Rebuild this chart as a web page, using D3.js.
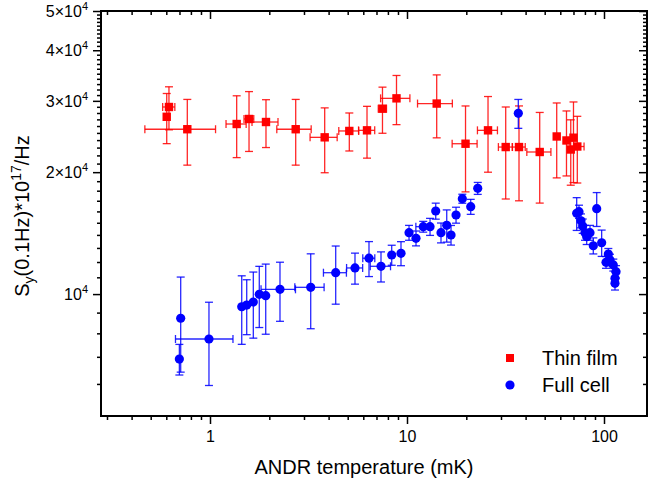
<!DOCTYPE html>
<html>
<head>
<meta charset="utf-8">
<script src="https://cdn.jsdelivr.net/npm/d3@7"></script>
<style>
  body { margin: 0; background: #fff; }
  svg { display: block; font-family: Arial, "Liberation Sans", sans-serif; }
</style>
</head>
<body>
<svg id="chart" width="649" height="484"></svg>
<script>
// Thin film: ANDR temperature (mK), Sy, errors
var filmT    = [0.603, 0.619, 0.767, 1.366, 1.578, 1.924, 2.723, 3.821, 5.095, 6.266, 7.508, 8.845, 14.15, 19.82, 25.78, 31.70, 37.03, 47.17, 57.54, 64.5, 67.8, 70.0, 73.2];
var filmTErr = [0, 0.044, 0.30, 0.16, 0.09, 0.29, 0.54, 0.60, 0.59, 0.59, 0.36, 1.5, 2.84, 2.87, 3.0, 2.6, 2.8, 6.6, 0, 0, 0, 0, 6];
var filmS    = [27400, 28970, 25530, 26300, 27060, 26600, 25530, 24380, 25280, 25370, 28690, 30430, 29540, 23510, 25370, 23070, 23070, 22430, 24500, 23950, 22750, 24330, 23140];
var filmSErr = [3880, 3525, 4715, 4575, 4560, 3595, 4715, 4445, 2720, 3710, 3740, 4225, 5230, 5630, 5375, 5900, 6075, 5655, 5140, 4375, 4180, 5480, 4335];

// Full cell
var cellT    = [0.710, 0.699, 0.988, 1.449, 1.536, 1.659, 1.779, 1.918, 2.266, 3.245, 4.346, 5.445, 6.413, 7.379, 8.363, 9.322,
                10.24, 11.11, 12.09, 13.09, 13.99, 14.88, 15.91, 16.73, 17.74, 19.09, 21.06, 22.86, 36.73,
                72.67, 74.66, 76.4, 77.95, 80.08, 81.68, 84.9, 88.25, 91.83, 97.3, 105.2, 102.4, 107.3, 111.5, 115.1, 113.7, 113.7];
var cellTErr = [0, 0, 0.32, 0, 0, 0, 0, 0, 0.45, 0.55, 0.58, 0.51, 0.45, 0.87, 0, 0,
                0, 0, 1.0, 0, 0, 0, 0, 0, 0, 0, 0, 0, 0,
                0, 0, 0, 0, 0, 0, 0, 0, 0, 0, 0, 0, 0, 0, 0, 0, 0];
var cellS    = [8716, 6912, 7747, 9305, 9394, 9559, 9988, 9909, 10276, 10392, 11292, 11601, 12262, 11712, 12490, 12611,
                14178, 13733, 14670, 14670, 16039, 14178, 14787, 13992, 15675, 17201, 16435, 18246, 27950,
                15830, 15975, 15174, 14723, 14178, 13856, 14178, 13164, 16248, 13388, 12559, 11978, 12142, 11800, 11356, 10940, 10633];
var cellSErr = [2300, 600, 1800, 1790, 1455, 1775, 1720, 1950, 1710, 2180, 1850, 1020, 1215, 1000, 710, 860,
                600, 580, 450, 710, 730, 800, 1350, 780, 710, 440, 700, 620, 2290,
                1470, 600, 600, 600, 600, 600, 600, 600, 1560, 1000, 400, 400, 400, 400, 400, 400, 400];

var xTicks = [1, 10, 100];
var xMinor = [0.3, 0.4, 0.5, 0.6, 0.7, 0.8, 0.9, 2, 3, 4, 5, 6, 7, 8, 9, 20, 30, 40, 50, 60, 70, 80, 90];
var yTicks = [10000, 20000, 30000, 40000, 50000];
var yMantissa = ["", "2", "3", "4", "5"];
var yMinor = [6000, 7000, 8000, 9000];
for (var v = 11000; v < 50000; v += 1000) if (v % 10000) yMinor.push(v);

var seriesNames = ["Thin film", "Full cell"];

var L = 101, R = 647, T = 11, B = 416;
var svg = d3.select("#chart");

var x = d3.scaleLog().domain([0.2797, 165.3]).range([L, R]);
var y = d3.scaleLog().domain([5000, 50000]).range([B, T]);

function styleAxis(g) {
    g.select(".domain").remove();
    g.selectAll("line").attr("stroke", "#000").attr("stroke-width", 1.5);
}

// bottom
svg.append("g").attr("transform", `translate(0,${B})`)
    .call(d3.axisBottom(x).tickValues(xTicks).tickSize(8).tickPadding(7).tickFormat(d3.format("d")))
    .call(styleAxis)
    .selectAll("text").attr("font-size", 16).attr("fill", "#000").attr("font-family", "Arial, 'Liberation Sans', sans-serif");
svg.append("g").attr("transform", `translate(0,${B})`)
    .call(d3.axisBottom(x).tickValues(xMinor).tickSize(4).tickFormat(""))
    .call(styleAxis);
// top (inward)
svg.append("g").attr("transform", `translate(0,${T})`)
    .call(d3.axisBottom(x).tickValues(xTicks).tickSize(8).tickFormat(""))
    .call(styleAxis);
svg.append("g").attr("transform", `translate(0,${T})`)
    .call(d3.axisBottom(x).tickValues(xMinor).tickSize(4).tickFormat(""))
    .call(styleAxis);
// left
svg.append("g").attr("transform", `translate(${L},0)`)
    .call(d3.axisLeft(y).tickValues(yTicks).tickSize(8).tickFormat(""))
    .call(styleAxis);
svg.append("g").attr("transform", `translate(${L},0)`)
    .call(d3.axisLeft(y).tickValues(yMinor).tickSize(4).tickFormat(""))
    .call(styleAxis);
// right (inward)
svg.append("g").attr("transform", `translate(${R},0)`)
    .call(d3.axisLeft(y).tickValues(yTicks).tickSize(8).tickFormat(""))
    .call(styleAxis);
svg.append("g").attr("transform", `translate(${R},0)`)
    .call(d3.axisLeft(y).tickValues(yMinor).tickSize(4).tickFormat(""))
    .call(styleAxis);

// y tick labels with superscript
var yl = svg.append("g").selectAll("text").data(yTicks).enter().append("text")
    .attr("x", 88).attr("y", d => y(d) + 6)
    .attr("text-anchor", "end").attr("font-size", 16).attr("fill", "#000");
yl.append("tspan").text((d, i) => (yMantissa[i] ? yMantissa[i] + "\u00d7" : "") + "10");
yl.append("tspan").attr("dy", -7).attr("font-size", 11).text("4");

// frame
svg.append("rect").attr("x", L).attr("y", T).attr("width", R - L).attr("height", B - T)
    .attr("fill", "none").attr("stroke", "#000").attr("stroke-width", 2);

// axis titles
svg.append("text").attr("x", (L + R) / 2 - 10).attr("y", 474).attr("text-anchor", "middle")
    .attr("font-size", 20).attr("fill", "#000").text("ANDR temperature (mK)");
var yt = svg.append("text").attr("transform", "translate(29,216) rotate(-90)")
    .attr("text-anchor", "middle").attr("font-size", 20).attr("fill", "#000");
yt.append("tspan").text("S");
yt.append("tspan").attr("dy", 5).attr("font-size", 14).text("y");
yt.append("tspan").attr("dy", -5).text("(0.1Hz)*10");
yt.append("tspan").attr("dy", -8).attr("font-size", 14).text("17");
yt.append("tspan").attr("dy", 8).text("/Hz");

function drawSeries(ts, tErr, ss, sErr, color, shape) {
    var data = ts.map((t, i) => ({t: t, te: tErr[i], s: ss[i], se: sErr[i]}));
    var g = svg.append("g");
    var cap = 4;
    var eb = g.append("g").attr("stroke", color).attr("stroke-width", 1.3).attr("stroke-opacity", 0.85).attr("fill", "none");
    data.forEach(d => {
        var cx = x(d.t), cy = y(d.s);
        if (d.se > 0) {
            var y0 = y(d.s + d.se), y1 = y(d.s - d.se);
            eb.append("line").attr("x1", cx).attr("x2", cx).attr("y1", y0).attr("y2", y1);
            eb.append("line").attr("x1", cx - cap).attr("x2", cx + cap).attr("y1", y0).attr("y2", y0);
            eb.append("line").attr("x1", cx - cap).attr("x2", cx + cap).attr("y1", y1).attr("y2", y1);
        }
        if (d.te > 0) {
            var x0 = x(d.t - d.te), x1 = x(d.t + d.te);
            eb.append("line").attr("x1", x0).attr("x2", x1).attr("y1", cy).attr("y2", cy);
            eb.append("line").attr("x1", x0).attr("x2", x0).attr("y1", cy - cap).attr("y2", cy + cap);
            eb.append("line").attr("x1", x1).attr("x2", x1).attr("y1", cy - cap).attr("y2", cy + cap);
        }
    });
    if (shape === "square") {
        g.selectAll("rect").data(data).enter().append("rect")
            .attr("x", d => x(d.t) - 4.2).attr("y", d => y(d.s) - 4.2)
            .attr("width", 8.4).attr("height", 8.4).attr("fill", color);
    } else {
        g.selectAll("circle").data(data).enter().append("circle")
            .attr("cx", d => x(d.t)).attr("cy", d => y(d.s)).attr("r", 4.6).attr("fill", color);
    }
}

drawSeries(filmT, filmTErr, filmS, filmSErr, "#ff0000", "square");
drawSeries(cellT, cellTErr, cellS, cellSErr, "#0000ff", "circle");

// legend
var lg = svg.append("g");
lg.append("rect").attr("x", 506).attr("y", 354).attr("width", 8).attr("height", 8).attr("fill", "#ff0000");
lg.append("circle").attr("cx", 510).attr("cy", 385).attr("r", 4.6).attr("fill", "#0000ff");
lg.selectAll("text").data(seriesNames).enter().append("text")
    .attr("x", 542).attr("y", (d, i) => 365 + i * 27)
    .attr("font-size", 20).attr("fill", "#000").text(d => d);
</script>
</body>
</html>
